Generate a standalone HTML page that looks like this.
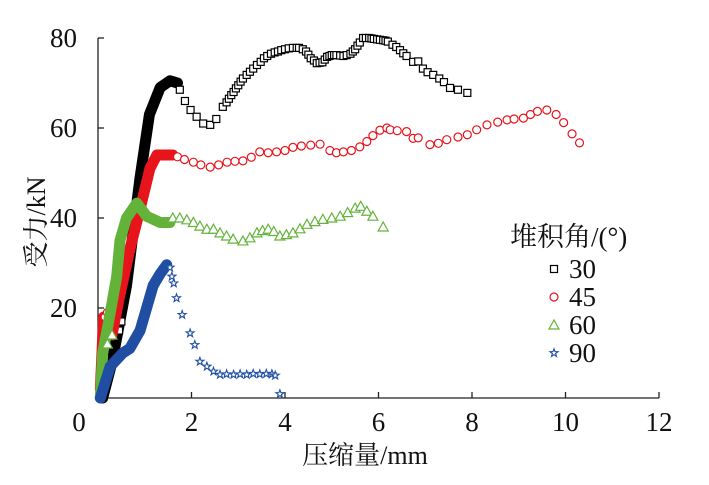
<!DOCTYPE html>
<html><head><meta charset="utf-8"><style>
html,body{margin:0;padding:0;background:#fff;}
svg{display:block;}
svg text{font-family:"Liberation Serif","Noto Serif CJK SC",serif;fill:#111;}
</style></head><body>
<svg id="chart" width="709" height="485" viewBox="0 0 709 485" xmlns="http://www.w3.org/2000/svg"></svg>
<script>
const xTicks=[0,2,4,6,8,10,12];
const yTicks=[20,40,60,80];
const xTickLabels=["0","2","4","6","8","10","12"];
const yTickLabels=["20","40","60","80"];
const seriesNames=["30","45","60","90"];
// dense (solid) portions
const dense30X=[0.1,0.3,0.43,0.61,0.9,1.1,1.33,1.54,1.7];
const dense30Y=[0,8,15,25,49,63,69,70.5,70];
const dense45X=[0.05,0.12,0.18,0.3,0.45,0.68,0.9,1.11,1.26,1.6];
const dense45Y=[2,18,15,14,22,33,42,51,54,54];
const dense60X=[0.05,0.1,0.26,0.4,0.47,0.61,0.83,1.04,1.33,1.54];
const dense60Y=[0,10,18.8,27,35,40,43.3,40.4,39,39];
const dense90X=[0.05,0.26,0.53,0.68,0.9,1.04,1.18,1.33,1.47];
const dense90Y=[0,7,10,11,15,20,25,27.6,29.6];
// sparse markers
const m30X=[0.45,0.5,1.75,1.86,1.98,2.11,2.25,2.4,2.53,2.67,2.75,2.8,2.85,2.9,2.95,3.0,3.05,3.1,3.18,3.25,3.32,3.4,3.48,3.55,3.62,3.7,3.78,3.85,3.92,4.0,4.08,4.17,4.25,4.3,4.38,4.45,4.5,4.55,4.62,4.68,4.74,4.8,4.85,4.9,4.95,5.0,5.05,5.1,5.18,5.25,5.32,5.4,5.45,5.5,5.55,5.6,5.67,5.73,5.8,5.85,5.9,5.97,6.03,6.1,6.15,6.2,6.3,6.38,6.46,6.53,6.6,6.74,6.85,6.95,7.05,7.17,7.3,7.4,7.53,7.7,7.9];
const m30Y=[15,17,68.5,66,64,62.5,61,60.7,62,64.7,65.7,66.5,67.3,68,68.8,69.5,70.3,71,71.8,72.5,73.2,74,74.7,75.5,76,76.5,76.8,77,77.3,77.5,77.7,77.8,77.8,77.8,77.5,77,76.3,75.5,75,74.4,74.5,74.6,75.2,75.8,76,76.2,76.2,76.2,76.1,76,76.2,76.5,77,77.5,78.3,79,80,80,80,79.9,79.8,79.7,79.6,79.5,79.4,79.2,78.5,78,77.3,76.6,76,74.7,74.8,73.2,72.4,71.8,71,70.2,68.9,68.5,67.8];
const m45X=[0.15,0.2,1.7,1.85,2.04,2.2,2.4,2.58,2.76,2.93,3.1,3.28,3.46,3.64,3.82,4.0,4.17,4.35,4.55,4.75,4.96,5.1,5.25,5.42,5.6,5.75,5.88,6.03,6.18,6.25,6.4,6.6,6.74,6.85,7.1,7.28,7.46,7.7,7.9,8.1,8.32,8.55,8.75,8.9,9.1,9.25,9.4,9.6,9.8,9.96,10.14,10.3];
const m45Y=[18,19,53.6,53,52.4,51.8,51.3,51.8,52.4,52.6,52.7,53.5,54.7,54.5,54.7,55,55.7,56,56.2,56.4,55,54.5,54.7,55,55.8,57,58.3,59.5,60,59.6,59.4,59.2,57.7,57.8,56.3,56.6,57.4,58,58.5,59.6,60.7,61.3,61.8,62,62.2,63,63.7,64,63,61.2,58.7,56.7];
const m60X=[0.2,0.3,1.6,1.75,1.9,2.04,2.18,2.33,2.47,2.61,2.75,2.89,3.1,3.25,3.4,3.52,3.64,3.76,3.89,4.03,4.17,4.32,4.47,4.64,4.81,5.0,5.18,5.34,5.5,5.62,5.75,5.88,6.1];
const m60Y=[12,14,40,40,39.6,39,38.2,37.5,37.5,36.7,36,35.3,34.9,35.6,36.7,37.2,37.5,37,36,36.3,36.7,37.6,38.6,39.2,39.7,40,40.4,41.2,42.2,42.6,41.5,40.4,38];
const m90X=[1.54,1.58,1.62,1.68,1.8,1.97,2.07,2.18,2.33,2.47,2.61,2.75,2.9,3.04,3.18,3.32,3.46,3.6,3.72,3.79,3.89];
const m90Y=[29,27,25.5,22.2,18.5,14.4,11.8,8.1,7,5.9,5.2,5.3,5.2,5.3,5.2,5.4,5.3,5.4,5.3,5.0,0.9];

const NS="http://www.w3.org/2000/svg";
const FONT='"Liberation Serif","Noto Serif CJK SC",serif';
const svg=document.getElementById('chart');
const X0=98,XS=46.75,Y0=398,YS=4.5;
const sx=v=>X0+v*XS, sy=v=>Y0-v*YS;
function mk(tag,attrs,parent){const e=document.createElementNS(NS,tag);for(const k in attrs)e.setAttribute(k,attrs[k]);if(tag==='text')e.setAttribute('font-family',FONT);(parent||svg).appendChild(e);return e;}

const ax=mk('g',{});


const yl=mk('line',{x1:X0,y1:Y0,x2:X0,y2:sy(80),stroke:'#222','stroke-width':1.3},ax);


const xl=mk('line',{x1:X0,y1:Y0,x2:sx(12),y2:Y0,stroke:'#222','stroke-width':1.3},ax);


xTicks.forEach((t,i)=>{
  const l=mk('line',{x1:sx(t),y1:Y0,x2:sx(t),y2:Y0-6,stroke:'#222','stroke-width':1.3},ax);
  
  
  const tx=mk('text',{x:sx(t)-(i===0?19:0),y:431,'text-anchor':'middle','font-size':27},ax);
  tx.textContent=xTickLabels[i];
  
  
});
yTicks.forEach((t,i)=>{
  const l=mk('line',{x1:X0,y1:sy(t),x2:X0+6,y2:sy(t),stroke:'#222','stroke-width':1.3},ax);
  
  
  const tx=mk('text',{x:77,y:sy(t)+9,'text-anchor':'end','font-size':27},ax);
  tx.textContent=yTickLabels[i];
  
  
});
const xt=mk('text',{x:365,y:464,'text-anchor':'middle','font-size':26});
xt.textContent='压缩量/mm';


const yt=mk('text',{x:0,y:0,'text-anchor':'middle','font-size':26,transform:'translate(45,222) rotate(-90)'});
yt.textContent='受力/kN';



function marker(type,cx,cy,color,parent){
  let e;
  if(type==='sq') e=mk('rect',{x:cx-3.5,y:cy-3.5,width:7,height:7,fill:'#fff',stroke:color,'stroke-width':1.2},parent);
  else if(type==='ci') e=mk('circle',{cx:cx,cy:cy,r:4,fill:'#fff',stroke:color,'stroke-width':1.2},parent);
  else if(type==='tr') e=mk('polygon',{points:`${cx-5},${cy+4} ${cx+5},${cy+4} ${cx},${cy-5}`,fill:'#fff',stroke:color,'stroke-width':1.2},parent);
  else {let p=[];for(let k=0;k<10;k++){const r=k%2?1.7:4.2,a=-Math.PI/2+k*Math.PI/5;p.push((cx+r*Math.cos(a)).toFixed(1)+','+(cy+r*Math.sin(a)).toFixed(1));}
    e=mk('polygon',{points:p.join(' '),fill:'#fff',stroke:color,'stroke-width':1.1},parent);}
  return e;
}
const series=[
  {dx:dense30X,dy:dense30Y,mx:m30X,my:m30Y,c:'#000',t:'sq'},
  {dx:dense45X,dy:dense45Y,mx:m45X,my:m45Y,c:'#e8141c',t:'ci'},
  {dx:dense60X,dy:dense60Y,mx:m60X,my:m60Y,c:'#63b33a',t:'tr'},
  {dx:dense90X,dy:dense90Y,mx:m90X,my:m90Y,c:'#1f4ea3',t:'st'}
];
series.forEach((s,i)=>{
  const g=mk('g',{});
  
  
  const pl=mk('polyline',{points:s.dx.map((v,j)=>sx(v)+','+sy(s.dy[j])).join(' '),fill:'none',stroke:s.c,'stroke-width':11,'stroke-linejoin':'round','stroke-linecap':'round'},g);
  
  
  s.mx.forEach((v,j)=>{
    const m=marker(s.t,sx(v),sy(s.my[j]),s.c,g);
    
    
  });
});
const lg=mk('g',{});


const lt=mk('text',{x:510,y:246,'font-size':27},lg);
lt.textContent='堆积角/(°)';


series.forEach((s,i)=>{
  const y=269+i*28;
  const m=marker(s.t,554,y,s.c,lg);
  
  
  const t=mk('text',{x:569,y:y+9,'font-size':27},lg);
  t.textContent=seriesNames[i];
  
  
});
</script>
</body></html>
